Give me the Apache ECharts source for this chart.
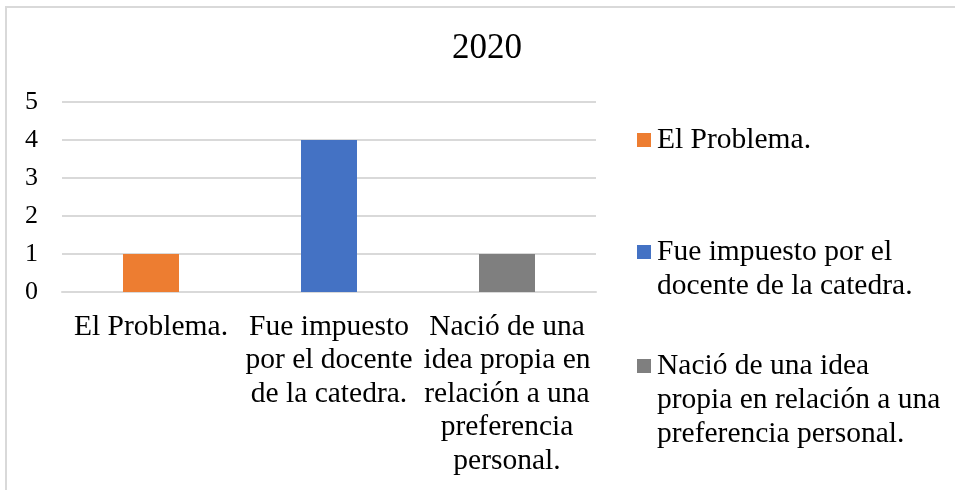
<!DOCTYPE html>
<html>
<head>
<meta charset="utf-8">
<script src="https://cdn.jsdelivr.net/npm/echarts@6/dist/echarts.min.js"></script>
<style>
  html, body { margin: 0; padding: 0; background: #fff; }
  #chart { width: 955px; height: 490px; }
</style>
</head>
<body>
<div id="chart"></div>
<script>
// data
const chartTitle = '2020'
const categories = [
  'El Problema.',
  'Fue impuesto por el docente de la catedra.',
  'Nació de una idea propia en relación a una preferencia personal.'
]
const values = [1, 4, 1]
const colors = ['#ED7D31', '#4472C4', '#7F7F7F']
const yTicks = [0, 1, 2, 3, 4, 5]
// wrapped text as it shows under the axis and in the legend
const axisLabelLines = [
  ['El Problema.'],
  ['Fue impuesto', 'por el docente', 'de la catedra.'],
  ['Nació de una', 'idea propia en', 'relación a una', 'preferencia', 'personal.']
]
const legendLabelLines = [
  ['El Problema.'],
  ['Fue impuesto por el', 'docente de la catedra.'],
  ['Nació de una idea', 'propia en relación a una', 'preferencia personal.']
]

const font = '"Liberation Serif", "Times New Roman", serif'
const chart = echarts.init(document.getElementById('chart'))

// one legend per entry so each can sit where the reference puts it
const legendTops = [123, 201, 281]
const legends = categories.map((name, i) => {
  const lines = legendLabelLines[i]
  // pad with empty lines above so the icon lines up with the first line
  const pad = new Array(lines.length - 1).fill('')
  return {
    data: [name],
    orient: 'vertical',
    left: 637,
    top: legendTops[i],
    padding: 0,
    itemWidth: 14,
    itemHeight: 14,
    itemGap: 0,
    icon: 'rect',
    selectedMode: false,
    formatter: () => pad.concat(lines).join('\n'),
    textStyle: {
      fontFamily: font,
      fontSize: 29.5,
      lineHeight: 34,
      color: '#000',
      padding: [0, 0, 0, 1]
    }
  }
})

const series = categories.map((name, i) => ({
  name: name,
  type: 'bar',
  stack: 'all',
  barWidth: 56,
  itemStyle: { color: colors[i] },
  data: categories.map((c, j) => (j === i ? values[i] : '-'))
}))

const option = {
  animation: false,
  backgroundColor: '#fff',
  title: {
    text: chartTitle,
    left: 447,
    top: 26,
    textStyle: {
      fontFamily: font,
      fontSize: 35,
      fontWeight: 'normal',
      color: '#000'
    }
  },
  legend: legends,
  grid: {
    left: 62,
    right: 359,
    top: 102,
    bottom: 198,
    containLabel: false
  },
  xAxis: {
    type: 'category',
    data: categories,
    axisTick: { show: false },
    axisLine: { lineStyle: { color: '#d9d9d9', width: 2 } },
    axisLabel: {
      interval: 0,
      margin: 18,
      fontFamily: font,
      fontSize: 29.5,
      lineHeight: 33.5,
      color: '#000',
      align: 'center',
      formatter: (val, idx) => axisLabelLines[idx].join('\n')
    }
  },
  yAxis: {
    type: 'value',
    min: yTicks[0],
    max: yTicks[yTicks.length - 1],
    interval: 1,
    axisLine: { show: false },
    axisTick: { show: false },
    splitLine: { lineStyle: { color: '#d9d9d9', width: 2 } },
    axisLabel: {
      margin: 24,
      fontFamily: font,
      fontSize: 26,
      color: '#000'
    }
  },
  series: series,
  graphic: [{
    // chart frame; only the top and left edges fall inside the picture
    type: 'rect',
    silent: true,
    shape: { x: 6, y: 7, width: 1000, height: 600 },
    style: { fill: 'none', stroke: '#d9d9d9', lineWidth: 2 }
  }]
}

chart.setOption(option)
</script>
</body>
</html>
